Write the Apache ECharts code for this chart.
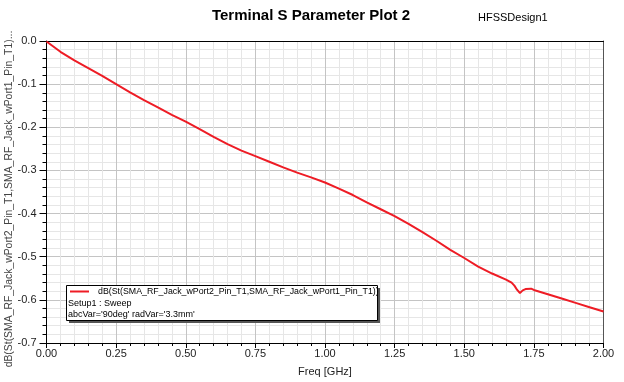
<!DOCTYPE html>
<html>
<head>
<meta charset="utf-8">
<script src="https://cdn.jsdelivr.net/npm/echarts@6/dist/echarts.min.js"></script>
<style>html,body{margin:0;padding:0;background:#fff}#c{width:624px;height:382px}</style>
</head>
<body>
<div id="c"></div>
<script>
var freqGHz = [0.00,0.05,0.10,0.15,0.20,0.25,0.30,0.35,0.40,0.45,0.50,0.55,0.60,0.65,0.70,0.75,0.80,0.85,0.90,0.95,1.00,1.05,1.10,1.15,1.20,1.25,1.30,1.35,1.40,1.45,1.50,1.55,1.60,1.65,1.67,1.68,1.69,1.70,1.71,1.72,1.74,1.75,1.80,1.85,1.90,1.95,2.00];
var s21dB = [-0.001,-0.025,-0.045,-0.063,-0.081,-0.100,-0.119,-0.137,-0.154,-0.171,-0.187,-0.204,-0.222,-0.239,-0.254,-0.267,-0.280,-0.293,-0.305,-0.316,-0.328,-0.342,-0.357,-0.374,-0.390,-0.406,-0.424,-0.443,-0.463,-0.484,-0.503,-0.523,-0.539,-0.553,-0.560,-0.567,-0.577,-0.584,-0.578,-0.575,-0.574,-0.577,-0.587,-0.597,-0.607,-0.617,-0.627];
var seriesName = "dB(St(SMA_RF_Jack_wPort2_Pin_T1,SMA_RF_Jack_wPort1_Pin_T1))";
var yAxisTitle = "dB(St(SMA_RF_Jack_wPort2_Pin_T1,SMA_RF_Jack_wPort1_Pin_T1)...";
var legendLines = ["Setup1 : Sweep", "abcVar='90deg' radVar='3.3mm'"];

var FONT = "Liberation Sans, Arial, sans-serif";
var chart = echarts.init(document.getElementById('c'), null, {renderer: 'canvas'});
var pts = freqGHz.map(function (f, i) { return [f, s21dB[i]]; });

chart.setOption({
  animation: false,
  backgroundColor: '#fff',
  title: {
    text: 'Terminal S Parameter Plot 2',
    left: 306, top: 3, textAlign: 'center',
    textStyle: {fontFamily: FONT, fontSize: 15, fontWeight: 'bold', color: '#000'}
  },
  grid: {left: 46.5, right: 20.5, top: 41, bottom: 37.5},
  legend: {
    data: [seriesName],
    left: 70, top: 287, padding: 0,
    icon: 'rect', itemWidth: 19, itemHeight: 2,
    textStyle: {fontFamily: FONT, fontSize: 8.8, color: '#000', padding: [0, 0, 0, 4]},
    z: 6
  },
  xAxis: [{
    type: 'value', min: 0, max: 2, interval: 0.25,
    name: 'Freq [GHz]', nameLocation: 'middle', nameGap: 23,
    nameTextStyle: {fontFamily: FONT, fontSize: 11, color: '#222'},
    axisLine: {show: true, onZero: false, lineStyle: {color: '#000', width: 1}},
    axisTick: {show: true, length: 5, lineStyle: {color: '#000'}},
    minorTick: {show: true, splitNumber: 5, length: 3, lineStyle: {color: '#000'}},
    axisLabel: {fontFamily: FONT, fontSize: 11, color: '#222', margin: 5,
      formatter: function (v) { return v.toFixed(2); }},
    splitLine: {show: true, lineStyle: {color: '#c4c4c4', width: 1}},
    minorSplitLine: {show: true, lineStyle: {color: '#e6e6e6', width: 1}}
  }, {
    type: 'value', min: 0, max: 2, position: 'top',
    axisLine: {show: true, onZero: false, lineStyle: {color: '#000', width: 1}},
    axisTick: {show: false}, axisLabel: {show: false}, splitLine: {show: false}
  }],
  yAxis: [{
    type: 'value', min: -0.7, max: 0, interval: 0.1,
    axisLine: {show: true, onZero: false, lineStyle: {color: '#000', width: 1}},
    axisTick: {show: true, length: 7, lineStyle: {color: '#000'}},
    minorTick: {show: true, splitNumber: 5, length: 4, lineStyle: {color: '#000'}},
    axisLabel: {fontFamily: FONT, fontSize: 11, color: '#222', margin: 10,
      formatter: function (v) { return v.toFixed(1); }},
    splitLine: {show: true, lineStyle: {color: '#c4c4c4', width: 1}},
    minorSplitLine: {show: true, lineStyle: {color: '#e6e6e6', width: 1}}
  }, {
    type: 'value', min: -0.7, max: 0, position: 'right',
    axisLine: {show: true, onZero: false, lineStyle: {color: '#555', width: 1}},
    axisTick: {show: false}, axisLabel: {show: false}, splitLine: {show: false}
  }],
  series: [{
    name: seriesName, type: 'line', data: pts,
    showSymbol: false, symbol: 'none', smooth: false,
    lineStyle: {color: '#ee1c25', width: 2}, itemStyle: {color: '#ee1c25'},
    z: 3
  }],
  graphic: [
    {type: 'rect', z: 4, shape: {x: 69, y: 288, width: 311, height: 35},
      style: {fill: '#555', stroke: null}},
    {type: 'rect', z: 4, shape: {x: 66.5, y: 285.5, width: 311, height: 35},
      style: {fill: '#fff', stroke: '#000', lineWidth: 1}},
    {type: 'text', z: 5, x: 68, y: 304,
      style: {text: legendLines[0], fontFamily: FONT, fontSize: 9, fill: '#000', verticalAlign: 'middle'}},
    {type: 'text', z: 5, x: 68, y: 314.5,
      style: {text: legendLines[1], fontFamily: FONT, fontSize: 9, fill: '#000', verticalAlign: 'middle'}},
    {type: 'text', z: 5, x: 478, y: 18,
      style: {text: 'HFSSDesign1', fontFamily: FONT, fontSize: 11, fill: '#000', verticalAlign: 'middle'}},
    {type: 'text', z: 5, x: 9, y: 199, rotation: Math.PI / 2,
      style: {text: yAxisTitle, fontFamily: FONT, fontSize: 10.4, fill: '#444', align: 'center', verticalAlign: 'middle'}}
  ]
});
</script>
</body>
</html>
